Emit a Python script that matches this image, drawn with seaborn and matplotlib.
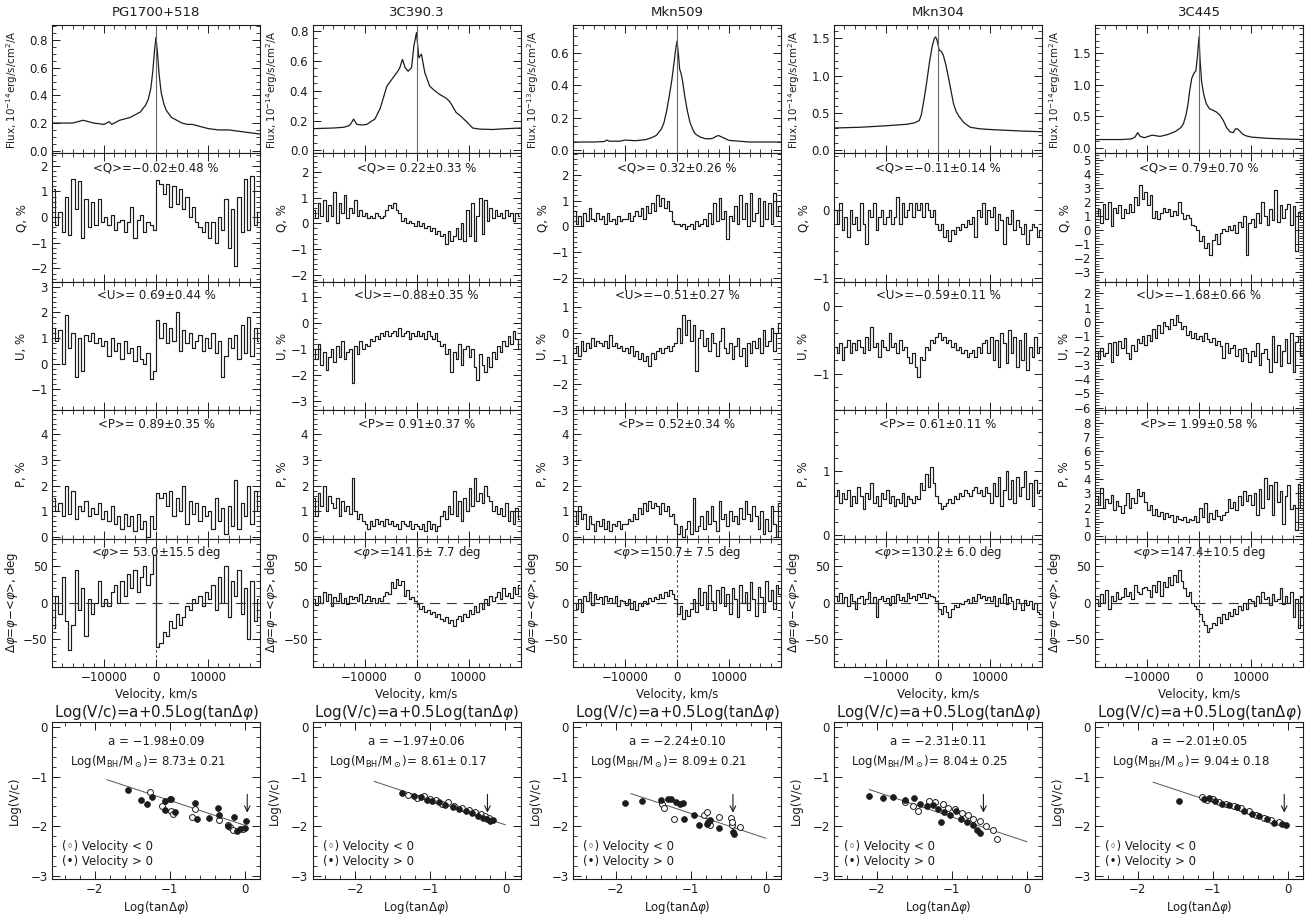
import numpy as np
import matplotlib
matplotlib.use("Agg")
import matplotlib.pyplot as plt
from matplotlib.ticker import MultipleLocator, AutoMinorLocator
import seaborn as sns

# ---------------- data ----------------
names = ["PG1700+518", "3C390.3", "Mkn509", "Mkn304", "3C445"]
flux_power = [-14, -14, -13, -14, -14]

q_mean = [-0.02, 0.22, 0.32, -0.11, 0.79]
q_err = [0.48, 0.33, 0.26, 0.14, 0.70]
u_mean = [0.69, -0.88, -0.51, -0.59, -1.68]
u_err = [0.44, 0.35, 0.27, 0.11, 0.66]
p_mean = [0.89, 0.91, 0.52, 0.61, 1.99]
p_err = [0.35, 0.37, 0.34, 0.11, 0.58]
phi_mean = [53.0, 141.6, 150.7, 130.2, 147.4]
phi_err = [15.5, 7.7, 7.5, 6.0, 10.5]

fit_a = [-1.98, -1.97, -2.24, -2.31, -2.01]
fit_a_err = [0.09, 0.06, 0.10, 0.11, 0.05]
log_mbh = [8.73, 8.61, 8.09, 8.04, 9.04]
log_mbh_err = [0.21, 0.17, 0.21, 0.25, 0.18]
fit_x_start = [-1.84, -1.75, -1.80, -2.10, -1.80]
arrow_x = [0.03, -0.24, -0.44, -0.58, -0.05]
arrow_y = [-1.30, -1.78]

# flux profiles (velocity km/s, flux)
pg_flux_v = [-20000, -18000, -16000, -14000, -13000, -12000, -10000, -9000, -8500, -7000, -5000, -4000,
             -3000, -2000, -1500, -1000, -600, -300, 0, 300, 600, 1000, 1500, 2000, 3000, 4000, 5000,
             6000, 7000, 8000, 10000, 12000, 14000, 16000, 18000, 20000]
pg_flux_f = [0.20, 0.20, 0.20, 0.22, 0.21, 0.20, 0.19, 0.21, 0.19, 0.22, 0.24, 0.26,
             0.28, 0.33, 0.37, 0.45, 0.58, 0.72, 0.82, 0.70, 0.55, 0.42, 0.34, 0.29, 0.24, 0.22, 0.20,
             0.19, 0.19, 0.18, 0.16, 0.15, 0.15, 0.14, 0.13, 0.12]

c390_flux_v = [-20000, -19700, -16000, -14000, -13000, -12600, -12100, -11500, -10500, -9500, -8900, -8000,
               -7000, -6300, -5700, -4450, -3600, -3200, -2700, -2200, -1600, -950, -500, 0, 450, 950,
               1600, 2550, 3500, 4450, 5700, 6300, 6700, 7600, 8500, 9550, 10800, 12100, 14650, 17000, 20000]
c390_flux_f = [0.15, 0.146, 0.15, 0.155, 0.165, 0.18, 0.21, 0.175, 0.17, 0.175, 0.19, 0.21,
               0.28, 0.36, 0.43, 0.49, 0.53, 0.555, 0.61, 0.555, 0.53, 0.555, 0.70, 0.79, 0.62, 0.645,
               0.52, 0.43, 0.40, 0.375, 0.35, 0.33, 0.31, 0.255, 0.23, 0.195, 0.15, 0.143, 0.14, 0.145, 0.15]

mk509_flux_v = [-20000, -16000, -14000, -13500, -13000, -11000, -10000, -8000, -6000, -5000, -4000, -3000,
                -2500, -2000, -1500, -1000, -600, -300, 0, 300, 500, 800, 1100, 1500, 2000, 2500, 3000,
                3500, 4500, 5500, 6500, 7000, 7500, 8000, 8500, 9000, 10000, 12000, 14000, 17000, 20000]
mk509_flux_f = [0.05, 0.05, 0.053, 0.062, 0.055, 0.055, 0.062, 0.058, 0.065, 0.075, 0.09, 0.13,
                0.17, 0.24, 0.33, 0.43, 0.53, 0.61, 0.67, 0.58, 0.50, 0.47, 0.42, 0.33, 0.24, 0.17, 0.13,
                0.10, 0.08, 0.07, 0.07, 0.075, 0.085, 0.09, 0.082, 0.075, 0.06, 0.055, 0.05, 0.05, 0.05]

mk304_flux_v = [-20000, -15000, -10000, -6000, -4500, -3600, -3200, -2700, -2200, -1600, -1100, -700,
                -450, -200, 0, 250, 600, 1000, 1500, 2000, 2500, 3000, 3500, 4000, 5000, 6200, 8000,
                10000, 13000, 16000, 20000]
mk304_flux_f = [0.30, 0.31, 0.33, 0.35, 0.37, 0.40, 0.48, 0.68, 0.90, 1.20, 1.40, 1.50,
                1.52, 1.48, 1.42, 1.34, 1.33, 1.28, 1.15, 0.98, 0.80, 0.62, 0.52, 0.46, 0.37, 0.31, 0.29,
                0.28, 0.27, 0.26, 0.25]

c445_flux_v = [-20000, -15000, -13000, -12300, -11800, -11300, -10500, -9000, -7500, -6000, -4500, -3500,
               -3000, -2500, -2100, -1800, -1400, -1000, -600, -300, 0, 200, 500, 900, 1400, 2000, 2600,
               3300, 4000, 4700, 5300, 6000, 6600, 7000, 7400, 7800, 8300, 9000, 10000, 13000, 16000, 20000]
c445_flux_f = [0.13, 0.13, 0.14, 0.17, 0.24, 0.18, 0.16, 0.20, 0.18, 0.21, 0.26, 0.32,
               0.38, 0.52, 0.70, 0.90, 1.10, 1.18, 1.22, 1.45, 1.76, 1.40, 1.05, 0.85, 0.70, 0.62, 0.60,
               0.57, 0.52, 0.43, 0.32, 0.25, 0.24, 0.30, 0.30, 0.27, 0.22, 0.19, 0.17, 0.15, 0.14, 0.13]

# polarization spectra, equal velocity bins spanning -20000..20000 km/s
pg_q = [1.1, -0.3, 0.2, -0.6, 0.8, -0.7, 1.5, 0.3, 1.4, -0.8, 0.7, -0.4, 0.6, -0.3, 0.7, -0.2,
        0.0, -0.3, 0.1, -0.5, -0.2, -0.1, -0.6, -0.2, 0.4, -0.8, -0.1, 0.1, -0.6, -0.2, -0.3, -0.5,
        1.45, 1.3, 0.9, 1.3, 0.4, 1.2, 0.5, 1.1, 0.3, 0.8, 0.0, 0.4, -0.2, -0.4, -0.6, -0.2,
        -0.8, -0.2, -1.0, 0.0, -0.5, 0.7, -1.2, 0.3, -1.9, 0.8, -0.6, 1.5, -0.5, 1.6, -0.3, 0.2]
pg_u = [1.4, 0.9, 1.3, 0.0, 1.9, 0.6, 1.2, -0.5, 1.0, -0.3, 1.1, 0.9, 1.2, 0.8, 1.0, 0.7,
        0.9, 0.3, 1.0, 0.5, 0.8, 0.2, 0.9, 0.4, 0.6, 0.1, 0.7, 0.2, 0.0, 0.4, -0.6, -0.3,
        1.7, 1.0, 1.6, 0.8, 1.4, 0.9, 2.0, 0.5, 1.3, 0.8, 1.2, 0.6, 0.9, 1.1, 0.5, 1.0,
        0.6, 1.2, 0.4, 0.9, -0.5, 0.3, 1.0, 0.6, 1.1, 0.2, 1.5, 0.4, 1.8, 0.3, 1.4, 0.9]
pg_p = [1.5, 1.0, 1.3, 0.8, 2.0, 0.9, 1.8, 0.7, 1.2, 1.0, 1.4, 0.8, 1.1, 0.9, 1.3, 0.7,
        1.0, 0.6, 1.2, 0.5, 0.8, 0.3, 0.9, 0.4, 0.8, 0.2, 0.9, 0.3, 0.6, 0.0, 0.8, 0.3,
        1.7, 1.5, 1.7, 1.2, 1.8, 0.8, 1.5, 1.0, 2.0, 0.5, 1.4, 0.9, 1.3, 0.6, 1.2, 0.8,
        1.0, 0.3, 1.5, 0.6, 1.1, 0.1, 1.2, 0.4, 2.2, 0.3, 1.3, 0.8, 2.0, 0.5, 1.8, 1.0]
pg_dphi = [-35, 10, -15, 35, -25, -65, -30, 45, -10, 20, -45, 5, -15, 0, 30, -5,
           5, -5, 15, 25, 0, 30, 10, 40, 20, 45, 15, 35, 50, 25, 40, 65,
           -60, -55, -40, -45, -25, -35, -15, -30, -20, -5, -10, 5, 0, 10, -5, 15,
           5, 25, -10, 35, 0, 50, -20, 30, 10, 45, -15, 20, -50, 30, -25, 5]

c390_q = [0.5, 0.2, 0.8, 0.3, 0.9, 0.1, 0.7, 0.3, 1.2, 0.0,
          0.8, 0.4, 1.1, 0.2, 0.6, 0.4, 0.9, 0.3, 0.5, 0.3,
          0.4, 0.2, 0.3, 0.2, 0.4, 0.3, 0.2, 0.3, 0.5, 0.7,
          0.6, 0.8, 0.5, 0.4, 0.1, 0.2, 0.0, 0.1, 0.0, -0.1,
          0.1, -0.1, 0.0, -0.2, -0.1, -0.3, -0.2, -0.4, -0.3, -0.5,
          -0.4, -0.8, -0.3, -0.7, -0.5, -0.2, -0.6, 0.0, -0.7, 0.5,
          -0.5, 0.8, -0.7, 0.3, 1.0, -0.4, 0.9, 0.1, 0.6, 0.2,
          0.5, 0.3, 0.4, 0.2, 0.5, 0.3, 0.4, 0.1, 0.4, 0.3]
c390_u = [-1.0, -1.4, -0.8, -1.6, -1.1, -1.8, -1.3, -1.0, -1.5, -0.9,
          -1.3, -0.7, -1.4, -1.1, -1.0, -2.3, -0.9, -1.2, -0.7, -1.0,
          -0.8, -0.9, -0.6, -0.7, -0.5, -0.6, -0.4, -0.5, -0.3, -0.5,
          -0.4, -0.3, -0.5, -0.2, -0.5, -0.4, -0.3, -0.6, -0.4, -0.5,
          -0.3, -0.5, -0.4, -0.6, -0.3, -0.5, -0.6, -0.4, -0.7, -0.9,
          -0.8, -1.2, -1.0, -1.9, -1.1, -1.4, -0.8, -1.6, -1.0, -0.9,
          -1.3, -1.0, -1.7, -2.2, -1.2, -1.6, -1.9, -1.3, -1.7, -1.1,
          -1.4, -0.9, -1.1, -0.7, -0.9, -0.5, -0.8, -0.3, -0.6, -1.0]
c390_p = [1.5, 0.8, 1.7, 1.2, 2.0, 1.0, 1.6, 1.3, 1.1, 1.5,
          0.8, 1.4, 1.0, 1.2, 0.9, 2.3, 1.0, 0.7, 0.9, 0.6,
          0.5, 0.3, 0.6, 0.4, 0.7, 0.5, 0.6, 0.4, 0.7, 0.5,
          0.6, 0.4, 0.5, 0.3, 0.6, 0.5, 0.4, 0.6, 0.3, 0.5,
          0.4, 0.3, 0.5, 0.2, 0.6, 0.3, 0.5, 0.2, 0.4, 0.8,
          1.0, 0.7, 1.2, 0.9, 1.8, 0.8, 1.4, 0.6, 1.5, 1.0,
          1.9, 1.2, 2.3, 1.4, 1.7, 1.3, 2.0, 1.6, 1.4, 1.0,
          1.2, 0.9, 1.1, 0.8, 1.3, 0.6, 1.0, 0.5, 1.1, 0.7]
c390_dphi = [5, -3, 10, 0, 15, 2, 12, -5, 8, 3,
             14, 0, 6, -2, 10, 5, 8, 2, 12, 0,
             4, 10, 2, 7, 0, 6, 3, 9, 15, 12,
             28, 20, 32, 25, 30, 10, 18, 5, 8, 2,
             -2, -8, -5, -12, -10, -15, -12, -20, -15, -22,
             -25, -20, -28, -24, -32, -22, -18, -25, -15, -20,
             -10, -15, -5, -12, 0, -8, 5, -3, 10, 2,
             8, 15, 5, 20, 10, 14, 6, 22, 12, 25]

mk509_q = [0.6, 0.1, 0.4, 0.0, 0.5, 0.2, 0.7, 0.3, 0.2, 0.5,
           0.3, 0.4, 0.1, 0.5, 0.2, 0.3, 0.1, 0.4, 0.2, 0.3,
           0.3, 0.5, 0.2, 0.4, 0.6, 0.4, 0.7, 0.3, 0.8, 0.5,
           0.9, 0.6, 1.2, 0.8, 1.1, 0.7, 1.0, 0.6, 0.2, 0.1,
           0.1, 0.0, 0.1, -0.1, 0.0, 0.1, -0.1, 0.2, 0.0, 0.1,
           0.3, 0.0, 0.5, 0.1, 0.9, 0.2, 1.1, 0.3, 0.6, -0.5,
           0.4, 0.2, 0.8, 0.1, 1.2, 0.3, 0.9, 0.0, 1.3, 0.2,
           0.5, 1.1, 0.0, 1.0, 0.3, 0.9, 0.1, 1.3, 0.4, 0.8]
mk509_u = [-0.8, -0.5, -0.9, -0.3, -0.7, -0.4, -0.6, -0.2, -0.5, -0.3,
           -0.4, -0.5, -0.3, -0.6, -0.1, -0.5, -0.4, -0.6, -0.5, -0.7,
           -0.6, -0.8, -0.5, -0.9, -0.7, -1.0, -0.8, -1.1, -0.9, -1.3,
           -0.8, -1.0, -0.7, -0.6, -0.8, -0.6, -0.5, -0.7, -0.5, -0.4,
           0.2, -0.4, 0.7, -0.1, 0.5, -0.3, 0.3, -1.5, -0.2, 0.1,
           -0.5, -0.2, -0.7, 0.0, -0.4, -0.9, -0.3, 0.2, -0.6, -0.8,
           -0.4, -1.0, -0.5, -0.2, -0.9, -0.6, -1.3, -0.4, -0.8, -0.3,
           -0.6, -0.2, -0.8, 0.1, -0.5, -0.3, 0.2, -0.7, 0.0, 0.4]
mk509_p = [1.0, 0.5, 1.2, 0.7, 0.9, 0.3, 0.8, 0.5, 0.2, 0.6,
           0.4, 0.7, 0.3, 0.6, 0.2, 0.5, 0.4, 0.6, 0.3, 0.5,
           0.5, 0.7, 0.6, 0.9, 0.7, 1.1, 0.9, 1.3, 1.0, 1.4,
           1.1, 1.3, 1.2, 0.9, 1.3, 1.0, 1.2, 0.8, 0.9, 0.5,
           0.1, 0.4, 0.0, 0.3, 0.6, 0.1, 1.5, 0.2, 0.4, 0.8,
           0.3, 1.0, 0.5, 1.2, 0.6, 0.2, 1.4, 0.7, 0.9, 0.4,
           1.0, 0.6, 0.8, 0.5, 1.1, 0.7, 1.4, 0.9, 0.6, 1.2,
           0.8, 0.3, 1.0, 0.1, 0.7, 0.2, 1.2, 0.5, 0.0, 1.3]
mk509_dphi = [0, -8, 5, -12, 10, 2, 15, -3, 12, 5,
              8, -2, 10, 3, 6, 0, 9, -5, 4, 2,
              -3, 5, -8, 2, -10, 0, -5, 3, -2, 6,
              2, 8, 5, 12, 7, 15, 10, 18, 12, 5,
              -15, -5, -22, -10, -18, -8, 5, -12, 20, -3,
              15, -8, 25, 2, -10, 18, 0, 22, -5, 12,
              -15, 20, 5, -20, 25, 0, 15, -10, 28, 5,
              -18, 22, 8, -12, 30, 2, 18, -8, 25, 12]

mk304_q = [0.0, -0.2, 0.1, -0.3, -0.1, -0.4, 0.0, -0.2, -0.1, -0.3,
           0.1, -0.2, -0.5, 0.0, -0.1, 0.1, -0.3, -0.1, 0.0, -0.2,
           -0.1, 0.0, -0.2, -0.1, 0.2, -0.2, 0.1, -0.1, 0.0, 0.1,
           -0.1, 0.1, 0.0, 0.1, -0.1, 0.1, 0.0, -0.1, 0.0, -0.2,
           -0.3, -0.2, -0.4, -0.3, -0.45, -0.3, -0.35, -0.25, -0.3, -0.2,
           -0.25, -0.15, -0.2, -0.1, -0.4, 0.0, -0.1, 0.1, -0.2, 0.0,
           -0.1, 0.05, -0.3, -0.05, -0.15, -0.5, -0.1, -0.2, 0.0, -0.3,
           -0.15, -0.25, -0.35, -0.2, -0.5, -0.3, -0.2, -0.25, -0.4, -0.3]
mk304_u = [-0.6, -0.7, -0.55, -0.8, -0.6, -0.5, -0.7, -0.55, -0.65, -0.5,
           -0.6, -0.7, -0.45, -0.65, -0.3, -0.6, -0.55, -0.75, -0.5, -0.6,
           -0.65, -0.4, -0.6, -0.55, -0.7, -0.5, -0.65, -0.6, -0.75, -0.85,
           -0.7, -0.9, -1.05, -0.75, -0.8, -0.6, -0.65, -0.5, -0.55, -0.45,
           -0.4, -0.5, -0.45, -0.55, -0.5, -0.6, -0.55, -0.65, -0.6, -0.7,
           -0.65, -0.75, -0.7, -0.65, -0.75, -0.6, -0.7, -0.55, -0.5, -0.7,
           -0.45, -0.8, -0.5, -0.9, -0.4, -0.55, -0.85, -0.35, -0.7, -0.45,
           -0.9, -0.5, -0.8, -0.4, -0.95, -0.6, -0.75, -0.45, -0.7, -0.6]
mk304_p = [0.6, 0.7, 0.5, 0.65, 0.55, 0.7, 0.45, 0.6, 0.5, 0.75,
           0.6, 0.4, 0.65, 0.55, 0.8, 0.5, 0.6, 0.45, 0.65, 0.55,
           0.7, 0.5, 0.6, 0.45, 0.55, 0.5, 0.65, 0.45, 0.6, 0.55,
           0.5, 0.6, 0.55, 0.8, 0.7, 0.95, 0.75, 1.05, 0.8, 0.6,
           0.5, 0.4, 0.45, 0.5, 0.55, 0.5, 0.6, 0.55, 0.65, 0.6,
           0.7, 0.65, 0.6, 0.7, 0.75, 0.65, 0.7, 0.6, 0.75, 0.65,
           0.5, 0.8, 0.6, 0.9, 0.45, 0.7, 1.0, 0.55, 0.85, 0.5,
           0.9, 0.6, 0.75, 1.0, 0.55, 0.8, 0.45, 0.85, 0.65, 0.7]
mk304_dphi = [10, 2, 14, 0, 8, -5, 12, 3, -8, 6,
              10, -2, 5, 15, 0, 8, -20, 5, 10, 2,
              6, -3, 9, 0, 12, 4, 8, 2, 14, 6,
              10, 4, 12, 8, 14, 6, 12, 10, 8, 2,
              -8, -15, -5, -12, -20, -8, -3, -6, 0, -2,
              2, 5, 0, 8, 3, 12, 6, 10, 4, 8,
              2, 10, -5, 6, 0, 12, -2, 8, 3, -8,
              5, 0, -10, 4, -3, 2, -8, 0, -12, -15]

c445_q = [1.0, 1.5, 0.5, 1.9, 0.8, 2.0, 0.3, 1.6, 1.2, 1.8,
          0.9, 1.5, 1.2, 1.9, 1.3, 2.4, 1.8, 3.2, 2.2, 2.7,
          1.8, 2.5, 0.9, 1.4, 0.8, 1.2, 1.6, 1.3, 1.5, 1.0,
          1.4, 1.1, 2.0, 1.2, 0.8, 1.1, 0.9, 0.4, 0.3, 0.0,
          -0.8, -0.4, -1.3, -0.9, -1.8, -0.7, -0.3, -1.0, -0.2, 0.1,
          -0.1, 0.3, 0.0, 0.4, -0.2, 0.6, 0.2, 1.0, -1.8, 0.5,
          0.8, 0.2, 1.2, 0.5, 2.0, 1.0, 0.4, 1.5, 0.7, 2.9,
          0.6, 1.8, 0.9, 1.5, 1.9, 0.4, 1.7, -1.5, 1.3, 0.8]
c445_u = [-2.0, -2.6, -1.8, -2.4, -2.2, -1.5, -2.8, -1.4, -2.3, -1.3,
          -1.8, -1.1, -2.2, -2.6, -1.6, -2.0, -1.2, -1.5, -1.0, -1.6,
          -0.9, -1.3, -0.5, -1.1, -0.2, -0.8, 0.0, -0.3, -0.5, 0.2,
          -0.2, 0.5, 0.0, -0.5, -0.3, -0.9, -0.6, -1.1, -0.8, -1.2,
          -1.0, -1.3, -0.8, -1.2, -1.4, -1.1, -1.6, -1.3, -1.7, -2.5,
          -1.5, -2.2, -1.8, -1.6, -2.4, -1.9, -2.7, -1.8, -2.2, -2.8,
          -2.0, -2.4, -1.5, -3.0, -2.2, -1.9, -2.6, -3.5, -1.0, -2.8,
          -1.6, -3.1, -2.0, -1.2, -2.9, -0.8, -3.5, -1.4, -1.0, -2.3]
c445_p = [2.8, 2.2, 3.4, 2.0, 2.6, 2.3, 2.9, 1.8, 2.5, 2.1,
          1.6, 2.2, 3.0, 2.0, 2.7, 2.3, 3.3, 2.8, 3.1, 2.4,
          1.8, 2.2, 1.5, 1.9, 1.4, 1.7, 1.2, 1.6, 1.3, 1.5,
          1.0, 1.4, 1.2, 1.1, 1.3, 1.0, 1.2, 1.1, 1.4, 1.0,
          2.0, 1.3, 2.3, 1.0, 1.6, 1.2, 1.8, 1.4, 1.1, 1.5,
          1.7, 2.6, 2.0, 2.4, 1.8, 2.8, 2.2, 3.2, 2.5, 2.9,
          2.2, 3.0, 1.5, 3.3, 2.0, 4.1, 2.6, 3.6, 1.5, 3.8,
          2.4, 3.2, 0.8, 2.8, 3.6, 1.9, 2.2, 0.4, 3.7, 2.0]
c445_dphi = [5, -5, 12, 0, 18, -8, 10, 2, 15, 5,
             8, 20, 10, 15, 5, 25, 15, 12, 20, 22,
             18, 8, 25, 15, 30, 10, 28, 22, 35, 25,
             38, 28, 45, 30, 20, 10, 15, 0, -5, -8,
             -15, -25, -30, -40, -35, -28, -30, -20, -28, -15,
             -22, -12, -18, -8, -15, -5, -10, 0, -8, 5,
             2, -5, 10, 0, 15, 5, 8, -3, 12, 2,
             5, 20, -2, 10, 0, 15, -20, 5, -35, 8]

# Log(V/c) vs Log(tan dphi) points: open = velocity < 0, filled = velocity > 0
pg_neg_x = [-1.27, -1.11, -0.99, -0.96, -0.70, -0.67, -0.34, -0.22, -0.20, -0.16, -0.02]
pg_neg_y = [-1.30, -1.59, -1.70, -1.76, -1.81, -1.66, -1.87, -1.97, -2.01, -2.07, -2.06]
pg_pos_x = [-1.56, -1.38, -1.31, -1.24, -1.07, -1.07, -1.00, -0.98, -0.93, -0.67, -0.64, -0.48,
            -0.36, -0.34, -0.23, -0.14, -0.10, -0.07, 0.00, 0.02]
pg_pos_y = [-1.27, -1.46, -1.56, -1.41, -1.48, -1.68, -1.44, -1.45, -1.72, -1.54, -1.86, -1.83,
            -1.64, -1.77, -1.99, -1.81, -2.09, -2.06, -2.04, -1.89]

c390_neg_x = [-1.30, -1.18, -1.08, -1.00, -0.92, -0.84, -0.76, -0.68, -0.58, -0.48, -0.40, -0.33, -0.27, -0.22]
c390_neg_y = [-1.36, -1.43, -1.38, -1.44, -1.47, -1.55, -1.52, -1.60, -1.63, -1.67, -1.72, -1.76, -1.80, -1.84]
c390_pos_x = [-1.38, -1.22, -1.12, -1.05, -0.98, -0.88, -0.80, -0.70, -0.62, -0.52, -0.45, -0.36,
              -0.30, -0.25, -0.20, -0.16]
c390_pos_y = [-1.33, -1.38, -1.40, -1.47, -1.50, -1.52, -1.58, -1.62, -1.66, -1.70, -1.73, -1.79,
              -1.83, -1.86, -1.90, -1.88]

mk509_neg_x = [-1.38, -1.36, -1.22, -0.82, -0.78, -0.74, -0.62, -0.47, -0.45, -0.45, -0.34]
mk509_neg_y = [-1.56, -1.64, -1.85, -1.77, -1.72, -1.97, -1.81, -1.83, -1.97, -1.91, -2.01]
mk509_pos_x = [-1.88, -1.65, -1.40, -1.30, -1.27, -1.20, -1.15, -1.11, -1.09, -0.96, -0.89, -0.79,
               -0.77, -0.75, -0.62, -0.44, -0.43]
mk509_pos_y = [-1.54, -1.48, -1.46, -1.44, -1.45, -1.52, -1.56, -1.53, -1.85, -1.77, -1.97, -1.96,
               -1.91, -1.87, -2.04, -2.12, -2.15]

mk304_neg_x = [-1.62, -1.52, -1.45, -1.30, -1.22, -1.12, -1.05, -0.96, -0.86, -0.78, -0.72, -0.62,
               -0.55, -0.45, -0.40]
mk304_neg_y = [-1.52, -1.60, -1.70, -1.48, -1.52, -1.56, -1.63, -1.66, -1.74, -1.78, -1.86, -1.90,
               -2.00, -2.08, -2.25]
mk304_pos_x = [-2.10, -1.92, -1.78, -1.62, -1.50, -1.42, -1.33, -1.25, -1.18, -1.10, -1.02, -0.95,
               -0.88, -0.80, -0.72, -0.66, -0.62, -1.15]
mk304_pos_y = [-1.38, -1.42, -1.40, -1.46, -1.42, -1.55, -1.60, -1.57, -1.66, -1.72, -1.78, -1.70,
               -1.85, -1.92, -1.98, -2.08, -2.14, -1.92]

c445_neg_x = [-1.15, -1.08, -1.00, -0.92, -0.82, -0.72, -0.62, -0.52, -0.42, -0.32, -0.22, -0.12]
c445_neg_y = [-1.40, -1.46, -1.44, -1.52, -1.56, -1.60, -1.64, -1.70, -1.78, -1.83, -1.88, -1.92]
c445_pos_x = [-1.45, -1.12, -1.05, -0.97, -0.88, -0.78, -0.68, -0.58, -0.48, -0.38, -0.28, -0.18,
              -0.08, -0.02]
c445_pos_y = [-1.50, -1.45, -1.42, -1.50, -1.55, -1.58, -1.62, -1.70, -1.75, -1.80, -1.86, -1.93,
              -1.96, -1.97]

# ---------------- grouping ----------------
flux_v = [pg_flux_v, c390_flux_v, mk509_flux_v, mk304_flux_v, c445_flux_v]
flux_f = [pg_flux_f, c390_flux_f, mk509_flux_f, mk304_flux_f, c445_flux_f]
spec_q = [pg_q, c390_q, mk509_q, mk304_q, c445_q]
spec_u = [pg_u, c390_u, mk509_u, mk304_u, c445_u]
spec_p = [pg_p, c390_p, mk509_p, mk304_p, c445_p]
spec_dphi = [pg_dphi, c390_dphi, mk509_dphi, mk304_dphi, c445_dphi]
neg_x = [pg_neg_x, c390_neg_x, mk509_neg_x, mk304_neg_x, c445_neg_x]
neg_y = [pg_neg_y, c390_neg_y, mk509_neg_y, mk304_neg_y, c445_neg_y]
pos_x = [pg_pos_x, c390_pos_x, mk509_pos_x, mk304_pos_x, c445_pos_x]
pos_y = [pg_pos_y, c390_pos_y, mk509_pos_y, mk304_pos_y, c445_pos_y]

# axis ranges per column
flux_lim = [(-0.02, 0.91), (-0.02, 0.84), (-0.02, 0.77), (-0.04, 1.68), (-0.09, 1.95)]
flux_step = [0.2, 0.2, 0.2, 0.5, 0.5]
q_lim = [(-2.52, 2.48), (-2.28, 2.72), (-2.15, 2.83), (-1.06, 0.84), (-3.71, 5.5)]
u_lim = [(-1.81, 3.19), (-3.35, 1.58), (-3.01, 1.99), (-1.545, 0.365), (-6.18, 2.82)]
p_lim = [(-0.08, 4.95), (-0.08, 4.95), (-0.08, 4.95), (-0.06, 1.94), (-0.2, 8.9)]
dphi_lim = (-88, 88)

# ---------------- style ----------------
sns.set_theme(style="ticks")
plt.rcParams["font.family"] = ["DejaVu Sans"]
plt.rcParams["mathtext.fontset"] = "dejavusans"
plt.rcParams["axes.unicode_minus"] = True

INK = "#1c1c1c"
FS = 8.5

W, H = 1308.0, 915.0
col_left = [52, 312.5, 573, 834, 1095]
col_w = 208
row_top = 25
row_h = 128.4
sc_top, sc_bot = 722, 879


def fmt(v, w, d):
    return f"{v:{w}.{d}f}".replace("-", "\u2212")


def style(ax):
    ax.set_facecolor("white")
    ax.grid(False)
    ax.tick_params(which="both", direction="in", top=True, right=True,
                   colors=INK, labelsize=FS, pad=3)
    ax.tick_params(which="major", length=5.5, width=0.7)
    ax.tick_params(which="minor", length=2.8, width=0.6)
    for s in ax.spines.values():
        s.set_linewidth(0.8)
        s.set_color(INK)


fig = plt.figure(figsize=(13.08, 9.15), dpi=100)
fig.patch.set_facecolor("white")

for c in range(5):
    L = col_left[c]
    axes = []
    for r in range(5):
        top = row_top + r * row_h
        ax = fig.add_axes([L / W, 1 - (top + row_h) / H, col_w / W, row_h / H])
        style(ax)
        ax.set_xlim(-20000, 20000)
        ax.set_xticks([-10000, 0, 10000])
        ax.xaxis.set_minor_locator(MultipleLocator(2000))
        ax.yaxis.set_minor_locator(AutoMinorLocator())
        if r < 4:
            ax.tick_params(labelbottom=False)
        axes.append(ax)

    # flux
    ax = axes[0]
    sns.lineplot(x=flux_v[c], y=flux_f[c], ax=ax, color=INK, lw=0.9, estimator=None)
    ax.axvline(0, color="#666666", lw=0.8)
    ax.set_ylim(*flux_lim[c])
    ax.yaxis.set_major_locator(MultipleLocator(flux_step[c]))
    ax.set_ylabel("Flux, 10$^{%d}$erg/s/cm$^2$/A" % flux_power[c], fontsize=7.4, color=INK)
    ax.yaxis.set_label_coords(-0.155, 0.5)
    fig.text((L + col_w / 2) / W, 1 - 13 / H, names[c], ha="center", va="center",
             fontsize=9.5, color=INK)

    # Q, U, P, dphi
    series = [spec_q[c], spec_u[c], spec_p[c], spec_dphi[c]]
    lims = [q_lim[c], u_lim[c], p_lim[c], dphi_lim]
    labels = ["Q, %", "U, %", "P, %", r"$\Delta\varphi$=$\varphi$$-$<$\varphi$>, deg"]
    label_x = [-0.115, -0.115, -0.115, -0.155]
    stats = ["<Q>=" + fmt(q_mean[c], 5, 2) + "\u00b1" + fmt(q_err[c], 4, 2) + " %",
             "<U>=" + fmt(u_mean[c], 5, 2) + "\u00b1" + fmt(u_err[c], 4, 2) + " %",
             "<P>=" + fmt(p_mean[c], 5, 2) + "\u00b1" + fmt(p_err[c], 4, 2) + " %",
             r"<$\varphi$>=" + fmt(phi_mean[c], 5, 1) + "\u00b1" + fmt(phi_err[c], 4, 1) + " deg"]
    for k in range(4):
        ax = axes[k + 1]
        vals = series[k]
        n = len(vals)
        edges = np.linspace(-20000, 20000, n + 1)
        centres = 0.5 * (edges[:-1] + edges[1:])
        sns.lineplot(x=centres, y=vals, ax=ax, color=INK, lw=0.85,
                     drawstyle="steps-mid", estimator=None)
        ax.set_ylim(*lims[k])
        ax.yaxis.set_major_locator(MultipleLocator(50 if k == 3 else 1))
        ax.set_ylabel(labels[k], fontsize=FS, color=INK)
        ax.yaxis.set_label_coords(label_x[k], 0.5)
        ax.text(0.5, 0.89, stats[k], transform=ax.transAxes, ha="center", va="center",
                fontsize=FS, color=INK)
        if k == 3:
            ax.axhline(0, color="#333333", lw=0.8, ls=(0, (9, 6)))
            ax.axvline(0, color="#333333", lw=0.8, ls=(0, (2, 2.5)))
            ax.set_xlabel("Velocity, km/s", fontsize=FS, color=INK)
            ax.xaxis.set_label_coords(0.5, -0.165)
        ax.set_xlim(-20000, 20000)

    # Log(V/c) vs Log(tan dphi)
    ax = fig.add_axes([L / W, 1 - sc_bot / H, col_w / W, (sc_bot - sc_top) / H])
    style(ax)
    xs = np.array([fit_x_start[c], 0.0])
    sns.lineplot(x=xs, y=fit_a[c] - 0.5 * xs, ax=ax, color="#555555", lw=0.7, estimator=None)
    sns.scatterplot(x=neg_x[c], y=neg_y[c], ax=ax, marker="o", s=18,
                    facecolor="white", edgecolor=INK, linewidth=0.7, zorder=3)
    sns.scatterplot(x=pos_x[c], y=pos_y[c], ax=ax, marker="o", s=18,
                    color=INK, edgecolor=INK, linewidth=0.5, zorder=4)
    ax.annotate("", xy=(arrow_x[c], arrow_y[1]), xytext=(arrow_x[c], arrow_y[0]),
                arrowprops=dict(arrowstyle="->", color=INK, lw=0.8,
                                mutation_scale=10))
    ax.set_xlim(-2.57, 0.2)
    ax.set_ylim(-3.06, 0.1)
    ax.xaxis.set_major_locator(MultipleLocator(1))
    ax.yaxis.set_major_locator(MultipleLocator(1))
    ax.xaxis.set_minor_locator(AutoMinorLocator(5))
    ax.yaxis.set_minor_locator(AutoMinorLocator(5))
    ax.set_title(r"Log(V/c)=a+0.5Log(tan$\Delta\varphi$)", fontsize=10.8, color=INK, pad=3)
    ax.set_xlabel(r"Log(tan$\Delta\varphi$)", fontsize=FS, color=INK)
    ax.xaxis.set_label_coords(0.5, -0.125)
    ax.set_ylabel("Log(V/c)", fontsize=FS, color=INK)
    ax.yaxis.set_label_coords(-0.15, 0.5)
    ax.text(0.5, 0.873, "a = " + fmt(fit_a[c], 5, 2) + "\u00b1" + fmt(fit_a_err[c], 4, 2),
            transform=ax.transAxes, ha="center", va="center", fontsize=FS, color=INK)
    ax.text(0.46, 0.75, r"Log(M$_{\rm BH}$/M$_\odot$)=" + fmt(log_mbh[c], 5, 2) + "\u00b1"
            + fmt(log_mbh_err[c], 5, 2),
            transform=ax.transAxes, ha="center", va="center", fontsize=FS, color=INK)
    ax.text(0.05, 0.21, "(\u25e6) Velocity < 0", transform=ax.transAxes, ha="left",
            va="center", fontsize=FS, color=INK)
    ax.text(0.05, 0.11, "(\u2022) Velocity > 0", transform=ax.transAxes, ha="left",
            va="center", fontsize=FS, color=INK)

fig.savefig("out.png", dpi=100, facecolor="white")
